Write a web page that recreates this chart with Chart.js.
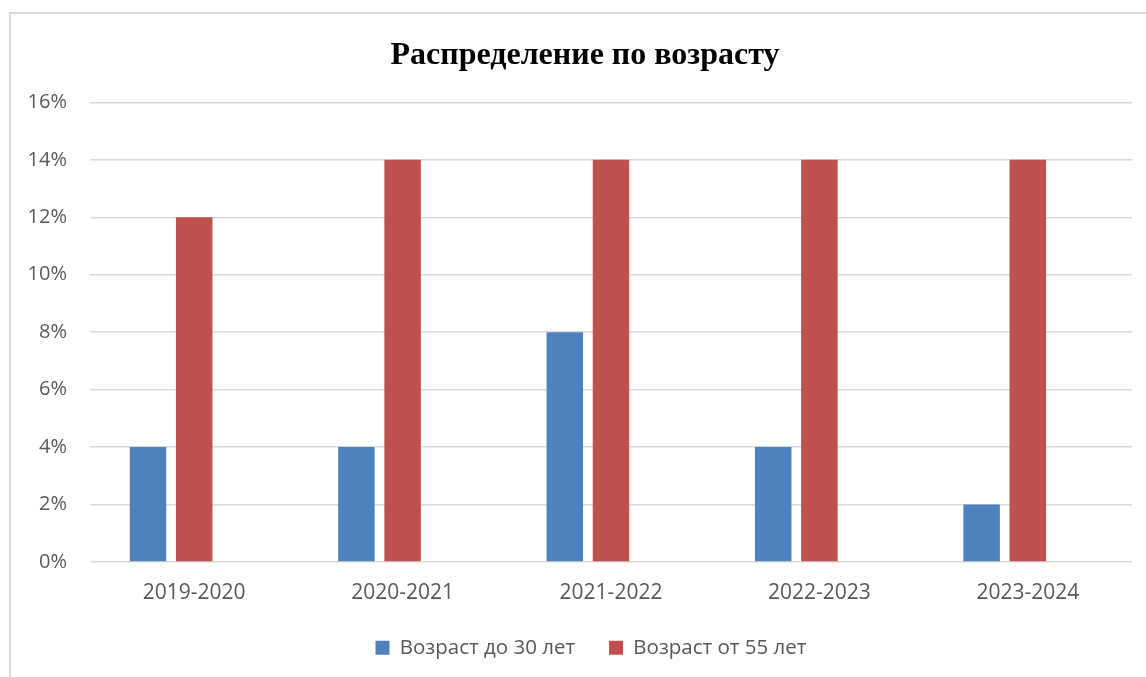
<!DOCTYPE html>
<html>
<head>
  <meta charset="utf-8">
  <title>Распределение по возрасту</title>
  <script src="https://cdn.jsdelivr.net/npm/chart.js"></script>
  <style>
    html, body { margin: 0; padding: 0; background: #fff; overflow: hidden; }
    #frame { position: absolute; left: 9px; top: 12px; width: 1200px; height: 720px; border: 2px solid #d9d9d9; }
    #wrap { position: absolute; left: 0; top: 0; width: 1146px; height: 677px; }
  </style>
</head>
<body>
  <div id="frame"></div>
  <div id="wrap"><canvas id="ageChart"></canvas></div>

  <script>
    const years = ['2019-2020', '2020-2021', '2021-2022', '2022-2023', '2023-2024'];
    const under30 = [4, 4, 8, 4, 2];
    const over55 = [12, 14, 14, 14, 14];
    // в исходной диаграмме есть третий пустой ряд, он сдвигает столбцы влево
    const emptySeries = [null, null, null, null, null];
    const yTicks = [0, 2, 4, 6, 8, 10, 12, 14, 16];

    const ctx = document.getElementById('ageChart').getContext('2d');

    // рамка исходной диаграммы шире окна, поэтому заголовок и легенда сдвинуты вправо
    const shiftBoxes = {
      id: 'shiftBoxes',
      afterLayout(chart) {
        if (chart.titleBlock) chart.titleBlock.left += 38;
        if (chart.legend) chart.legend.left += 50;
      }
    };

    const ageChart = new Chart(ctx, {
      type: 'bar',
      data: {
        labels: years,
        datasets: [
          { label: 'Возраст до 30 лет', data: under30, backgroundColor: '#4f81bd' },
          { label: 'Возраст от 55 лет', data: over55, backgroundColor: '#c0504d' },
          { label: '', data: emptySeries, backgroundColor: 'rgba(0,0,0,0)' }
        ]
      },
      plugins: [shiftBoxes],
      options: {
        responsive: true,
        maintainAspectRatio: false,
        animation: false,
        layout: { padding: { left: 0, right: 14, top: 0, bottom: 9 } },
        datasets: {
          bar: { categoryPercentage: 0.665, barPercentage: 0.79 }
        },
        plugins: {
          tooltip: { enabled: false },
          title: {
            display: true,
            text: 'Распределение по возрасту',
            color: '#000',
            font: { family: '"Liberation Serif", "Times New Roman", serif', size: 32, weight: 'bold' },
            padding: { top: 37, bottom: 27 }
          },
          legend: {
            position: 'bottom',
            labels: {
              boxWidth: 14,
              boxHeight: 14,
              padding: 34,
              color: '#595959',
              font: { family: '"Open Sans", sans-serif', size: 20.5 },
              filter: item => item.text !== ''
            }
          }
        },
        scales: {
          x: {
            grid: { display: false },
            border: { display: false },
            ticks: {
              color: '#595959',
              padding: 10,
              font: { family: '"Open Sans", sans-serif', size: 21 }
            },
            afterFit: scale => { scale.height = 41.5; }
          },
          y: {
            min: 0,
            max: 16,
            afterBuildTicks: scale => { scale.ticks = yTicks.map(v => ({ value: v })); },
            grid: { color: '#d9d9d9', lineWidth: 1.5, drawTicks: false },
            border: { display: false },
            ticks: {
              color: '#595959',
              padding: 23,
              font: { family: '"Open Sans", sans-serif', size: 20 },
              callback: v => v + '%'
            },
            afterFit: scale => { scale.width = 90; }
          }
        }
      }
    });
  </script>
</body>
</html>
